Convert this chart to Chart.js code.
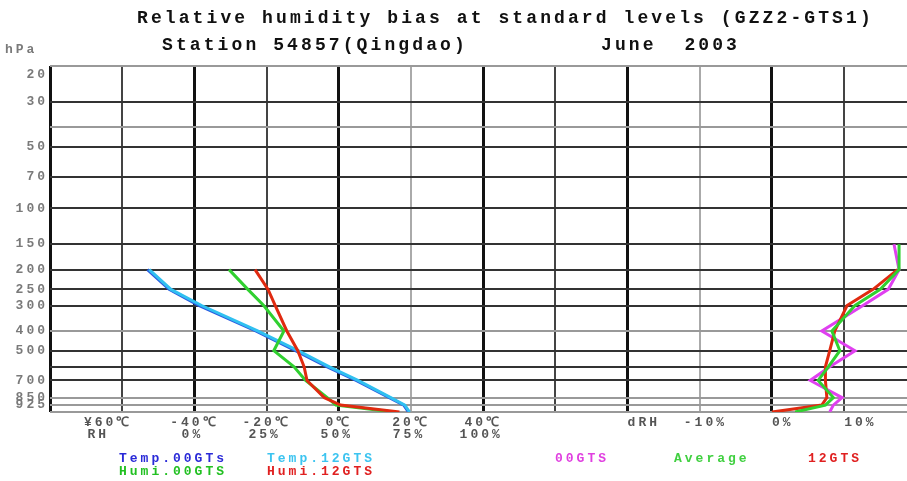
<!DOCTYPE html>
<html>
<head>
<meta charset="utf-8">
<script src="https://cdn.jsdelivr.net/npm/chart.js@4.4.1/dist/chart.umd.min.js"></script>
<style>
  body { margin: 0; background: #fff; }
</style>
</head>
<body>
<canvas id="rh-chart" width="907" height="481"></canvas>
<script>
// Pressure levels (hPa)
const gridLevels = [20, 30, 40, 50, 70, 100, 150, 200, 250, 300, 400, 500, 600, 700, 850, 925, 1000];
const labelLevels = [20, 30, 50, 70, 100, 150, 200, 250, 300, 400, 500, 700, 850, 925];
const profileLevels = [200, 250, 300, 400, 500, 600, 700, 850, 925, 1000];
const biasLevels = [150, 200, 250, 300, 400, 500, 600, 700, 850, 925, 1000];

// Temperature (deg C)
const temp00 = [-53, -47, -38.8, -23, -12, -3.2, 4.8, 14, 18, 19.3];
const temp12 = [-52.5, -46.5, -38, -22.5, -11.3, -2.6, 5.3, 14.4, 18.3, 19.6];

// Relative humidity (%)
const humi00 = [12, 18.5, 24, 31, 27.5, 34.5, 38.5, 46, 49, 69];
const humi12 = [21, 25.5, 28, 32, 35.8, 38, 39, 45, 50.6, 71];

// RH bias dRH (%)
const bias00 = [16.9, 17.6, 16.1, 12.6, 6.9, 11.5, 8.0, 5.3, 9.7, 8.5, 8.0];
const biasAvg = [17.6, 17.6, 15.0, 11.5, 8.3, 9.4, 7.8, 6.4, 8.5, 7.4, 3.2];
const bias12 = [null, 17.4, 14.0, 10.4, 8.7, 8.0, 7.4, 7.4, 7.6, 6.9, 0];

// Bottom axis labels
const tempTicks = [["¥60℃", -60], ["-40℃", -40], ["-20℃", -20], ["0℃", 0], ["20℃", 20], ["40℃", 40]];
const rhTicks = [["RH", -60], ["0%", -40], ["25%", -20], ["50%", 0], ["75%", 20], ["100%", 40]];
const biasTicks = [["dRH", -20], ["-10%", -10], ["0%", 0], ["10%", 10]];

// the x axis runs in deg C; RH and dRH panels are placed on it
const rhToX = rh => -40 + 0.8 * rh;
const biasToX = d => 120 + 2 * d;

function points(levels, values, toX) {
    const out = [];
    levels.forEach((p, i) => {
        if (values[i] !== null) out.push({ x: toX(values[i]), y: p });
    });
    return out;
}

function line(label, data, color, order) {
    return { label, data, borderColor: color, borderWidth: 3, pointRadius: 0, showLine: true, fill: false, order };
}

const xGrid = [-80, -60, -40, -20, 0, 20, 40, 60, 80, 100, 120, 140];

const textPlugin = {
    id: "texts",
    afterDraw(chart) {
        const ctx = chart.ctx;
        const xs = chart.scales.x, ys = chart.scales.y;
        const top = chart.chartArea.top;
        ctx.save();
        ctx.textBaseline = "middle";

        // titles
        ctx.fillStyle = "#111";
        ctx.font = "bold 18px 'Liberation Mono'";
        ctx.letterSpacing = "3.1px";
        ctx.textAlign = "left";
        ctx.fillText("Relative humidity bias at standard levels (GZZ2-GTS1)", 137, 18);
        ctx.fillText("Station 54857(Qingdao)", 162, 45);
        ctx.fillText("June  2003", 601, 45);

        // pressure labels
        ctx.font = "bold 13px 'Liberation Mono'";
        ctx.letterSpacing = "3px";
        ctx.fillStyle = "#7a7a7a";
        ctx.textAlign = "left";
        ctx.fillText("hPa", 5, 50);
        ctx.textAlign = "right";
        labelLevels.forEach(p => {
            const y = Math.max(ys.getPixelForValue(p), top + 9);
            ctx.fillText(String(p), 48, y);
        });

        // bottom labels
        ctx.fillStyle = "#555";
        ctx.textAlign = "center";
        tempTicks.forEach(([t, v]) => ctx.fillText(t, xs.getPixelForValue(v) + (v === -60 ? -14 : 0), 423));
        rhTicks.forEach(([t, v]) => ctx.fillText(t, xs.getPixelForValue(v) + (v === -60 ? -22 : 0) - 2, 435));
        ctx.textAlign = "left";
        biasTicks.forEach(([t, d]) => {
            const x = xs.getPixelForValue(biasToX(d));
            ctx.fillText(t, d < 0 && t !== "dRH" ? x - 16 : x, 423);
        });

        // legend
        const legend = [
            ["Temp.00GTs", 119, 459, "#2a2ad8"], ["Temp.12GTS", 267, 459, "#3cc4f0"],
            ["Humi.00GTS", 119, 472, "#22c022"], ["Humi.12GTS", 267, 472, "#e02020"],
            ["00GTS", 555, 459, "#e040e0"], ["Average", 674, 459, "#40d040"], ["12GTS", 808, 459, "#e02020"]
        ];
        legend.forEach(([t, x, y, c]) => { ctx.fillStyle = c; ctx.fillText(t, x, y); });
        ctx.restore();
    }
};

const chart = new Chart(document.getElementById("rh-chart").getContext("2d"), {
    type: "scatter",
    data: {
        datasets: [
            line("Temp.00GTs", points(profileLevels, temp00, t => t), "#2a5ae0", 6),
            line("Temp.12GTS", points(profileLevels, temp12, t => t), "#30c0f0", 5),
            line("Humi.00GTS", points(profileLevels, humi00, rhToX), "#30d030", 4),
            line("Humi.12GTS", points(profileLevels, humi12, rhToX), "#e02a10", 3),
            line("00GTS", points(biasLevels, bias00, biasToX), "#e040f0", 7),
            line("12GTS", points(biasLevels, bias12, biasToX), "#e02a10", 2),
            line("Average", points(biasLevels, biasAvg, biasToX), "#30d030", 1)
        ]
    },
    options: {
        responsive: false,
        animation: false,
        devicePixelRatio: 1,
        layout: { padding: { left: 50, top: 66, right: 0, bottom: 69 } },
        plugins: { legend: { display: false }, tooltip: { enabled: false } },
        scales: {
            x: {
                type: "linear",
                min: -80,
                max: 157.4,
                afterBuildTicks: s => { s.ticks = xGrid.map(v => ({ value: v })); },
                ticks: { display: false },
                border: { display: false },
                grid: {
                    drawTicks: false,
                    color: c => {
                        const v = c.tick.value;
                        if (v % 40 === 0) return "#111";
                        if (v === 20 || v === 100) return "#aaa";
                        return "#444";
                    },
                    lineWidth: c => (c.tick.value % 40 === 0 ? 3 : 2)
                }
            },
            y: {
                type: "logarithmic",
                reverse: true,
                min: 20,
                max: 1000,
                afterBuildTicks: s => { s.ticks = gridLevels.map(v => ({ value: v })); },
                ticks: { display: false },
                border: { display: false },
                grid: {
                    drawTicks: false,
                    color: c => ([20, 40, 400, 850, 925, 1000].includes(c.tick.value) ? "#999" : "#333"),
                    lineWidth: 2
                }
            }
        }
    },
    plugins: [textPlugin]
});
</script>
</body>
</html>
